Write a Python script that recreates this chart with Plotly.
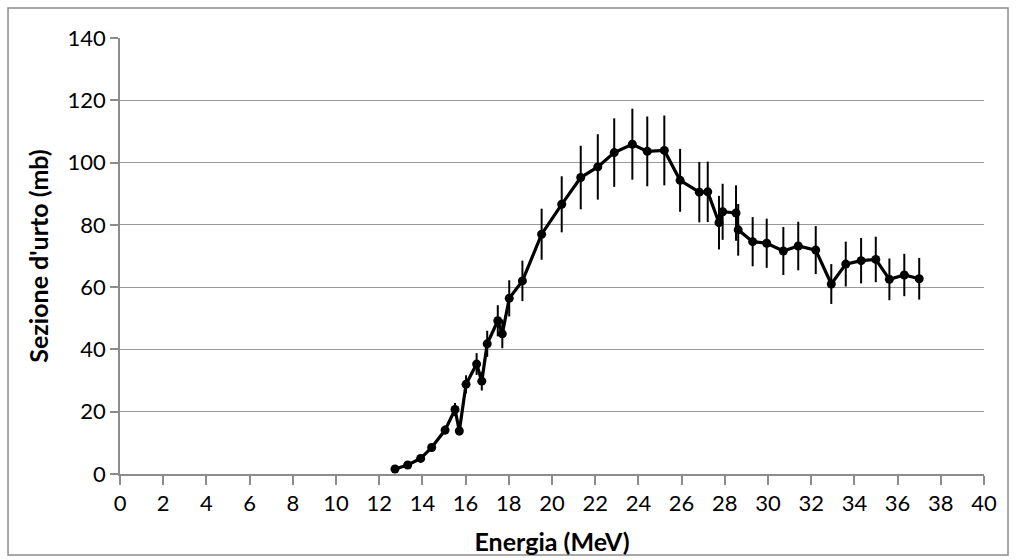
import plotly.graph_objects as go

# Energy (MeV)
energy = [12.73, 13.32, 13.92, 14.43, 15.05, 15.51, 15.71, 16.02, 16.51, 16.75,
          17.00, 17.49, 17.70, 18.02, 18.63, 19.52, 20.45, 21.33, 22.12, 22.88,
          23.72, 24.41, 25.20, 25.93, 26.82, 27.21, 27.73, 27.90, 28.52, 28.62,
          29.29, 29.94, 30.71, 31.40, 32.21, 32.93, 33.60, 34.31, 34.99, 35.62,
          36.31, 37.00]
# Cross section (mb)
sigma = [1.6, 2.9, 5.0, 8.5, 14.1, 20.7, 13.8, 28.8, 35.3, 29.8,
         41.8, 49.2, 45.0, 56.4, 62.0, 77.0, 86.6, 95.2, 98.6, 103.2,
         105.9, 103.6, 103.9, 94.3, 90.5, 90.6, 80.7, 84.2, 83.8, 78.4,
         74.6, 74.1, 71.6, 73.2, 71.9, 61.0, 67.4, 68.5, 68.9, 62.5,
         63.9, 62.7]
# Error (mb)
sigma_err = [0.2, 0.3, 0.5, 0.9, 1.4, 2.1, 1.4, 2.9, 3.5, 3.0,
             4.2, 5.0, 4.6, 5.8, 6.5, 8.2, 9.0, 10.2, 10.5, 11.0,
             11.4, 11.2, 11.2, 10.1, 9.7, 9.7, 8.6, 9.0, 8.9, 8.3,
             7.9, 7.9, 7.7, 7.8, 7.7, 6.4, 7.2, 7.3, 7.3, 6.7,
             6.8, 6.7]

x_title = "Energia (MeV)"
y_title = "Sezione d'urto (mb)"

FONT = "Lato, Calibri, 'Noto Sans', sans-serif"
AXIS_COLOR = "#8c8c8c"

fig = go.Figure(
    go.Scatter(
        x=energy, y=sigma, mode="lines+markers",
        line=dict(color="black", width=3.2),
        marker=dict(color="black", size=9, symbol="circle"),
        error_y=dict(type="data", array=sigma_err, visible=True,
                     color="black", thickness=2, width=0),
        showlegend=False,
    )
)

fig.update_layout(
    width=1016, height=560,
    margin=dict(l=120, r=32, t=38, b=86),
    paper_bgcolor="white", plot_bgcolor="white",
    font=dict(family=FONT, size=22, color="black"),
    xaxis=dict(
        range=[0, 40], tick0=0, dtick=2, showgrid=False, zeroline=False,
        automargin=False,
        showline=True, linecolor=AXIS_COLOR, linewidth=1.5,
        ticks="outside", ticklen=9, tickcolor=AXIS_COLOR, tickwidth=1.5,
        tickfont=dict(family=FONT, size=22, color="black"),
        title=dict(text="<b>" + x_title + "</b>", standoff=18,
                   font=dict(family=FONT, size=25, color="black")),
    ),
    yaxis=dict(
        range=[0, 140], tick0=0, dtick=20, showgrid=True,
        automargin=False,
        gridcolor="#999999", gridwidth=1.3, zeroline=False,
        showline=True, linecolor=AXIS_COLOR, linewidth=1.5,
        ticks="outside", ticklen=8, tickcolor=AXIS_COLOR, tickwidth=1.5,
        tickfont=dict(family=FONT, size=22, color="black"),
        title=dict(text="<b>" + y_title + "</b>", standoff=12,
                   font=dict(family=FONT, size=25, color="black")),
    ),
    shapes=[dict(type="rect", xref="paper", yref="paper",
                 x0=-0.1296, x1=1.0278, y0=-0.1858, y1=1.0688,
                 line=dict(color=AXIS_COLOR, width=1.5), layer="below")],
)

fig.write_html("out.html")
